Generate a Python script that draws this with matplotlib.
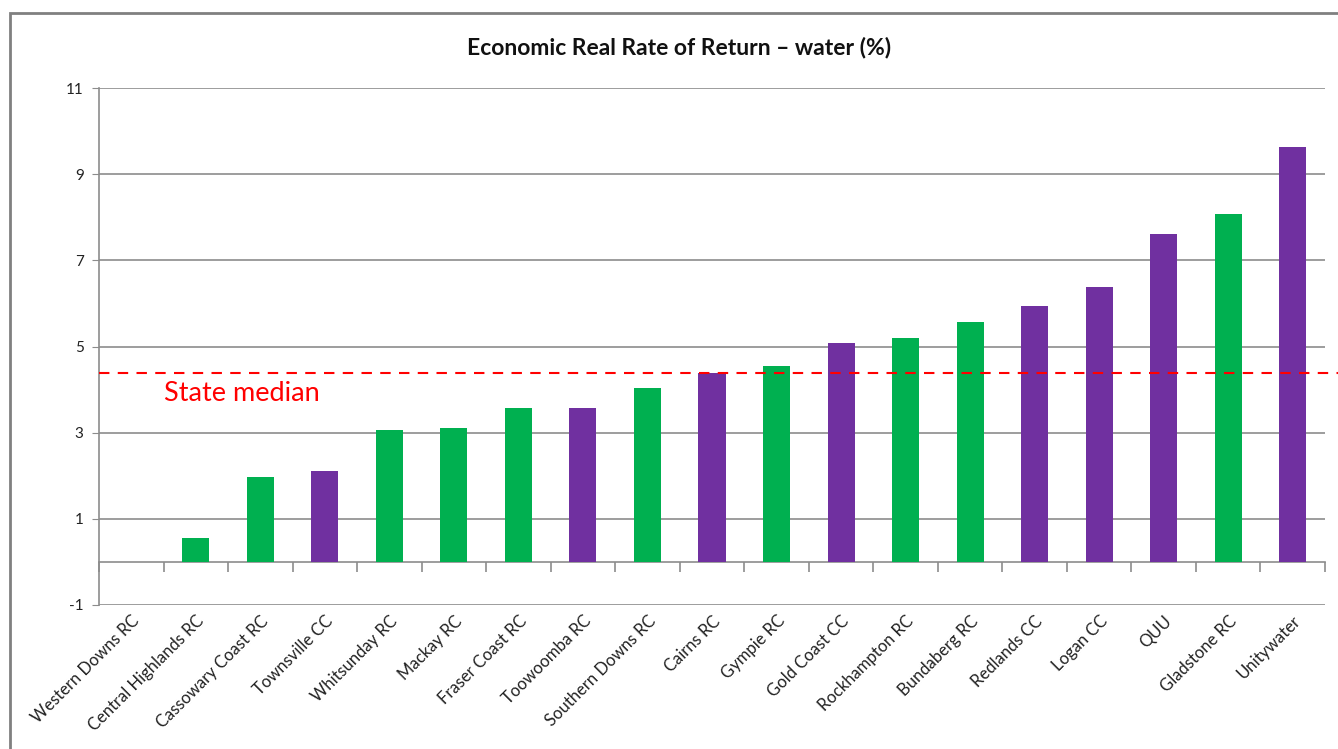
import matplotlib
matplotlib.use("Agg")
import matplotlib.pyplot as plt
import matplotlib.transforms as mtransforms
from matplotlib.patches import Rectangle
import numpy as np

# ── data ────────────────────────────────────────────────────────────────────
councils = ["Western Downs RC", "Central Highlands RC", "Cassowary Coast RC",
            "Townsville CC", "Whitsunday RC", "Mackay RC", "Fraser Coast RC",
            "Toowoomba RC", "Southern Downs RC", "Cairns RC", "Gympie RC",
            "Gold Coast CC", "Rockhampton RC", "Bundaberg RC", "Redlands CC",
            "Logan CC", "QUU", "Gladstone RC", "Unitywater"]
returns = [0.0, 0.56, 1.97, 2.11, 3.06, 3.11, 3.57, 3.57, 4.04, 4.38, 4.55,
           5.08, 5.20, 5.57, 5.94, 6.39, 7.60, 8.07, 9.63]
group = ["g", "g", "g", "p", "g", "g", "g", "p", "g", "p", "g",
         "p", "g", "g", "p", "p", "p", "g", "p"]
state_median = 4.39
yticks = [-1, 1, 3, 5, 7, 9, 11]

GREEN = "#00B050"
PURPLE = "#7030A0"
GRID = "#8c8c8c"

plt.rcParams["font.family"] = ["Lato", "DejaVu Sans"]

fig = plt.figure(figsize=(13.38, 7.49), dpi=100)
ax = fig.add_axes([99 / 1338, 1 - 605 / 749, (1325 - 99) / 1338, (605 - 88) / 749])

# outer chart border (cut off at right / bottom like the screenshot)
fig.patches.append(Rectangle((10 / 1338, -0.1), 1.2, 1.1 - 13 / 749,
                             transform=fig.transFigure, fill=False,
                             edgecolor="#808080", lw=2))

n = len(councils)
x = np.arange(n)
colors = [GREEN if g == "g" else PURPLE for g in group]
ax.bar(x, returns, width=0.42, color=colors, zorder=3)

ax.set_xlim(-0.5, n - 0.5)
ax.set_ylim(-1, 11)
ax.set_yticks(yticks)
ax.set_yticklabels([str(v) for v in yticks], fontsize=11, color="#222222")
ax.yaxis.grid(True, color=GRID, lw=1.2, zorder=0)
ax.tick_params(axis="y", direction="out", length=5, color=GRID, pad=6)

for s in ["top", "right"]:
    ax.spines[s].set_visible(False)
ax.spines["left"].set_color(GRID)
ax.spines["left"].set_linewidth(1.2)
ax.spines["bottom"].set_position(("data", 0))
ax.spines["bottom"].set_color(GRID)
ax.spines["bottom"].set_linewidth(1.2)
ax.set_xticks(np.arange(-0.5, n, 1.0))
ax.set_xticklabels([])
ax.tick_params(axis="x", direction="out", length=7, color=GRID, width=1.2)

# category labels below the -1 line
off = mtransforms.offset_copy(ax.transData, fig=fig, x=0, y=-8, units="dots")
for i, name in enumerate(councils):
    ax.text(i, -1, name, rotation=45, ha="right", va="top",
            rotation_mode="anchor", fontsize=12, color="#222222",
            transform=off, clip_on=False)

# state median
ax.plot([-0.5, n - 0.5 + 0.22], [state_median, state_median], color="red",
        lw=1.5, ls=(0, (5, 4)), zorder=4, clip_on=False)
ax.text(0.5, state_median - 0.2, "State median", color="red", fontsize=19.5,
        va="top", ha="left")

fig.text(679 / 1338, 1 - 47 / 749, "Economic Real Rate of Return \u2013 water (%)",
         ha="center", va="center", fontsize=16.5, fontweight="bold", color="#111111")

fig.savefig("out.png", dpi=100)
